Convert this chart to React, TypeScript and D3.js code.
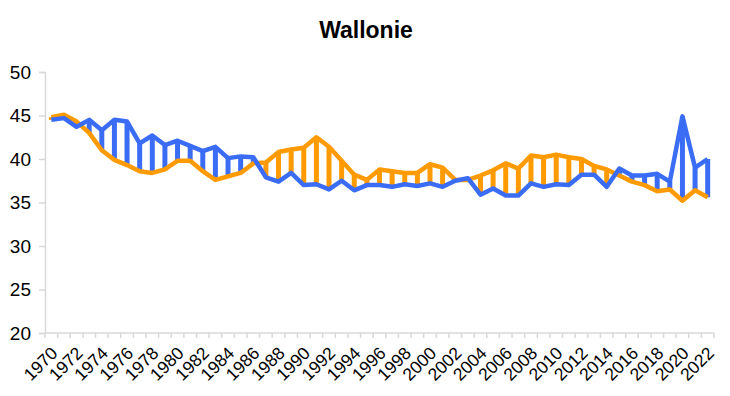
import React, { useRef, useEffect } from 'react';
import * as d3 from 'd3';

const years: number[] = d3.range(1970, 2023);
const blueValues: number[] = [
  44.5, 44.7, 43.7, 44.5, 43.3, 44.5, 44.3, 41.8, 42.7, 41.6,
  42.1, 41.5, 40.9, 41.4, 40.1, 40.3, 40.2, 37.9, 37.4, 38.4,
  37.0, 37.1, 36.5, 37.5, 36.4, 37.0, 37.0, 36.8, 37.1, 36.9,
  37.2, 36.8, 37.5, 37.8, 35.9, 36.6, 35.8, 35.8, 37.2, 36.8,
  37.1, 37.0, 38.2, 38.2, 36.8, 38.9, 38.1, 38.1, 38.3, 37.4,
  44.9, 39.0, 40.0,
];
const orangeValues: number[] = [
  44.8, 45.1, 44.3, 43.0, 41.0, 39.9, 39.3, 38.6, 38.4, 38.8,
  39.8, 39.8, 38.6, 37.6, 38.0, 38.4, 39.5, 39.6, 40.8, 41.1,
  41.3, 42.5, 41.4, 39.8, 38.2, 37.6, 38.8, 38.6, 38.4, 38.4,
  39.4, 39.0, 37.6, 37.6, 38.1, 38.7, 39.5, 38.9, 40.4, 40.2,
  40.5, 40.2, 40.0, 39.2, 38.8, 38.1, 37.4, 37.0, 36.3, 36.5,
  35.2, 36.4, 35.6,
];
const yTicks: number[] = [20, 25, 30, 35, 40, 45, 50];

const BLUE = '#3a6cf6';
const ORANGE = '#ff9a00';
const FONT = 'Liberation Sans, Arial, sans-serif';

const Chart = () => {
  const ref = useRef<SVGSVGElement>(null);

  useEffect(() => {
    const svg = d3.select(ref.current);
    svg.selectAll('*').remove();
    const w = 730, h = 396;
    const left = 45, right = 714, top = 72, bottom = 333;

    const x = d3.scaleBand<number>().domain(years).range([left, right]).padding(0);
    const y = d3.scaleLinear().domain([20, 50]).range([bottom, top]);
    const cx = (yr: number) => (x(yr) as number) + x.bandwidth() / 2;

    svg.attr('width', w).attr('height', h);
    svg.append('rect').attr('width', w).attr('height', h).attr('fill', '#fff');

    // title
    svg.append('text')
      .attr('x', w / 2 + 1)
      .attr('y', 38)
      .attr('text-anchor', 'middle')
      .style('font-family', FONT)
      .style('font-size', '23px')
      .style('font-weight', 'bold')
      .text('Wallonie');

    // y axis
    const yAxis = svg.append('g')
      .attr('transform', `translate(${left},0)`)
      .call(d3.axisLeft(y).tickValues(yTicks).tickSize(6).tickPadding(8));
    yAxis.select('.domain').attr('stroke', '#d9d9d9').attr('stroke-width', 1.5);
    yAxis.selectAll('.tick line').attr('stroke', '#d9d9d9').attr('stroke-width', 1.5);
    yAxis.selectAll('.tick text')
      .style('font-family', FONT)
      .style('font-size', '19px')
      .attr('fill', '#000');

    // x axis
    const xg = svg.append('g');
    xg.append('line')
      .attr('x1', left).attr('x2', right)
      .attr('y1', bottom).attr('y2', bottom)
      .attr('stroke', '#d9d9d9').attr('stroke-width', 1.5);
    xg.selectAll('line.tk')
      .data(years.concat([2023]))
      .join('line')
      .attr('class', 'tk')
      .attr('x1', (d) => (d === 2023 ? right : (x(d) as number)))
      .attr('x2', (d) => (d === 2023 ? right : (x(d) as number)))
      .attr('y1', bottom).attr('y2', bottom + 5)
      .attr('stroke', '#d9d9d9').attr('stroke-width', 1.5);
    xg.selectAll('text')
      .data(years.filter((d) => d % 2 === 0))
      .join('text')
      .attr('transform', (d) => `translate(${cx(d) + 3},${bottom + 17}) rotate(-45)`)
      .attr('text-anchor', 'end')
      .attr('dy', '0.35em')
      .style('font-family', FONT)
      .style('font-size', '17.5px')
      .text((d) => String(d));

    // drop bars between the series, coloured by the higher one
    svg.append('g')
      .selectAll('line')
      .data(years)
      .join('line')
      .attr('x1', (d) => cx(d))
      .attr('x2', (d) => cx(d))
      .attr('y1', (d, i) => y(blueValues[i]))
      .attr('y2', (d, i) => y(orangeValues[i]))
      .attr('stroke', (d, i) => (blueValues[i] > orangeValues[i] ? BLUE : ORANGE))
      .attr('stroke-width', 5);

    const line = (vals: number[]) =>
      d3.line<number>().x((d) => cx(d)).y((d, i) => y(vals[i]))(years);

    svg.append('path')
      .attr('d', line(orangeValues))
      .attr('fill', 'none')
      .attr('stroke', ORANGE)
      .attr('stroke-width', 4.5)
      .attr('stroke-linejoin', 'round');

    svg.append('path')
      .attr('d', line(blueValues))
      .attr('fill', 'none')
      .attr('stroke', BLUE)
      .attr('stroke-width', 4.5)
      .attr('stroke-linejoin', 'round');
  }, []);

  return <svg ref={ref}></svg>;
};

export default function App() {
  return (
    <div style={{ position: 'absolute', left: 0, top: 0 }}>
      <Chart />
    </div>
  );
}
